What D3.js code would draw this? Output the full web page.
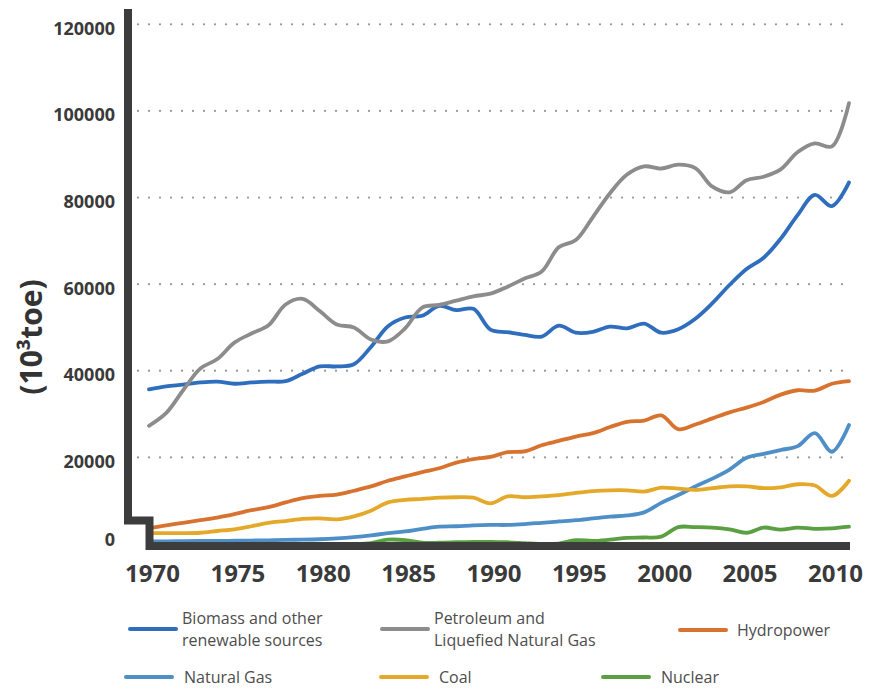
<!DOCTYPE html>
<html>
<head>
<meta charset="utf-8">
<script src="https://cdn.jsdelivr.net/npm/d3@7"></script>
<style>
  body { margin: 0; background: #fff; }
  text { font-family: "Open Sans", sans-serif; }
</style>
</head>
<body>
<div class="canvas"></div>
<script>
// data (10^3 toe)
const years = [1970, 1971, 1972, 1973, 1974, 1975, 1976, 1977, 1978, 1979,
    1980, 1981, 1982, 1983, 1984, 1985, 1986, 1987, 1988, 1989,
    1990, 1991, 1992, 1993, 1994, 1995, 1996, 1997, 1998, 1999,
    2000, 2001, 2002, 2003, 2004, 2005, 2006, 2007, 2008, 2009,
    2010, 2011]

const biomass = [35700, 36400, 36800, 37300, 37500, 37000, 37300, 37500, 37600, 39300,
    41000, 41000, 41500, 45500, 50300, 52300, 52700, 55000, 54000, 54300,
    49500, 48900, 48300, 47900, 50400, 48800, 49000, 50200, 49800, 50900,
    48800, 49600, 52000, 55600, 59800, 63500, 66100, 70500, 76000, 80600,
    78000, 83500]

const petroleum = [27300, 30200, 35500, 40500, 42700, 46500, 48600, 50500, 55300, 56600,
    53800, 50700, 50000, 47200, 46800, 49800, 54600, 55200, 56200, 57200,
    57800, 59400, 61300, 62900, 68500, 70200, 75500, 81000, 85300, 87200,
    86700, 87600, 86800, 82500, 81200, 84000, 84800, 86500, 90500, 92500,
    91800, 101800]

const hydropower = [3600, 4300, 4900, 5500, 6100, 6900, 7800, 8500, 9600, 10600,
    11100, 11400, 12300, 13300, 14600, 15600, 16600, 17500, 18800, 19600,
    20100, 21200, 21400, 22800, 23800, 24800, 25600, 27000, 28200, 28500,
    29700, 26500, 27600, 29000, 30400, 31500, 32800, 34500, 35500, 35400,
    37000, 37600]

const naturalGas = [600, 600, 650, 700, 700, 750, 800, 850, 950, 1000,
    1100, 1300, 1600, 2000, 2500, 2900, 3500, 4000, 4100, 4300,
    4400, 4400, 4600, 4900, 5200, 5500, 5900, 6300, 6600, 7300,
    9500, 11300, 13300, 15100, 17200, 19900, 20800, 21700, 22600, 25600,
    21300, 27500]

const coal = [2500, 2500, 2500, 2600, 3000, 3400, 4100, 4900, 5300, 5800,
    5900, 5700, 6400, 7700, 9600, 10200, 10400, 10700, 10800, 10700,
    9400, 11000, 10800, 11000, 11300, 11800, 12200, 12400, 12400, 12100,
    13000, 12800, 12500, 12900, 13300, 13300, 12900, 13100, 13800, 13500,
    11100, 14600]

const nuclear = [0, 0, 0, 0, 0, 0, 0, 0, 0, 0,
    0, 0, 0, 200, 1000, 900, 300, 300, 400, 500,
    500, 400, 200, 0, 100, 900, 700, 1000, 1400, 1500,
    1700, 3900, 3900, 3800, 3400, 2600, 3800, 3300, 3800, 3500,
    3600, 4000]

const yTicks = [0, 20000, 40000, 60000, 80000, 100000, 120000]
const xTicks = [1970, 1975, 1980, 1985, 1990, 1995, 2000, 2005, 2010]

const seriesNames = ["Biomass and other|renewable sources", "Petroleum and|Liquefied Natural Gas",
    "Hydropower", "Natural Gas", "Coal", "Nuclear"]
const seriesValues = [biomass, petroleum, hydropower, naturalGas, coal, nuclear]
const seriesColors = ["#2f6dbd", "#8c8c8c", "#d8722f", "#4f8fc7", "#e5a92a", "#5b9f43"]

// legend layout (swatch x, text x, row y)
const legendPos = [
    {sx: 130, tx: 182, y: 629},
    {sx: 382, tx: 434, y: 629},
    {sx: 680, tx: 737, y: 630},
    {sx: 126, tx: 184, y: 677},
    {sx: 381, tx: 439, y: 677},
    {sx: 603, tx: 661, y: 677}
]

const width = 873
const height = 689
const axisColor = "#3d3d3d"

const svg = d3.select(".canvas")
    .append("svg")
    .attr("width", width)
    .attr("height", height)

const x = d3.scaleLinear()
    .domain([1970, 2011])
    .range([149, 849])

const y = d3.scaleLinear()
    .domain([0, 120000])
    .range([544, 24.3])

// dotted grid
svg.append("g")
    .selectAll("line")
    .data(yTicks.filter(d => d > 0))
    .enter()
    .append("line")
    .attr("x1", 138)
    .attr("x2", 850)
    .attr("y1", d => y(d))
    .attr("y2", d => y(d))
    .attr("stroke", "#9a9a9a")
    .attr("stroke-width", 2.3)
    .attr("stroke-linecap", "round")
    .attr("stroke-dasharray", "0 11")

// lines
const line = d3.line()
    .x((d, i) => x(years[i]))
    .y(d => y(d))
    .curve(d3.curveCatmullRom.alpha(0.5))

svg.append("g")
    .selectAll("path")
    .data(seriesValues)
    .enter()
    .append("path")
    .attr("d", d => line(d))
    .attr("fill", "none")
    .attr("stroke", (d, i) => seriesColors[i])
    .attr("stroke-width", 3.8)
    .attr("stroke-linejoin", "round")
    .attr("stroke-linecap", "round")

// broken axis frame
const x0 = x.range()[0]
const x1 = x.range()[1]
svg.append("path")
    .attr("d", d3.line()([[128, 9], [128, 520.5], [x0 + 0.5, 520.5], [x0 + 0.5, y(0) + 2], [x1 + 1, y(0) + 2]]))
    .attr("fill", "none")
    .attr("stroke", axisColor)
    .attr("stroke-width", 8)
    .attr("stroke-linejoin", "miter")

// y axis labels
const yAxisGroup = svg.append("g")
    .attr("transform", "translate(121, 0)")
    .call(d3.axisLeft(y).tickValues(yTicks).tickFormat(d3.format("d")).tickSize(0).tickPadding(6))
yAxisGroup.select(".domain").remove()
yAxisGroup.selectAll("text")
    .attr("font-family", "Open Sans, sans-serif")
    .attr("font-weight", 700)
    .attr("font-size", 18)
    .attr("fill", "#3a3a3a")
    .attr("dy", d => d === 0 ? "0.1em" : "0.55em")

// x axis labels
const xAxisGroup = svg.append("g")
    .attr("transform", `translate(3, ${y(0) + 6})`)
    .call(d3.axisBottom(x).tickValues(xTicks).tickFormat(d3.format("d")).tickSize(0).tickPadding(15))
xAxisGroup.select(".domain").remove()
xAxisGroup.selectAll("text")
    .attr("font-family", "Open Sans, sans-serif")
    .attr("font-weight", 700)
    .attr("font-size", 24)
    .attr("fill", "#3a3a3a")

// y title
svg.append("text")
    .attr("transform", "translate(30, 337) rotate(-90)")
    .attr("text-anchor", "middle")
    .attr("dominant-baseline", "central")
    .attr("font-weight", 700)
    .attr("font-size", 30)
    .attr("fill", "#333")
    .text("(10³toe)")

// legend
const legend = svg.append("g")
seriesNames.forEach((name, i) => {
    const p = legendPos[i]
    legend.append("line")
        .attr("x1", p.sx)
        .attr("x2", p.sx + 46)
        .attr("y1", p.y)
        .attr("y2", p.y)
        .attr("stroke", seriesColors[i])
        .attr("stroke-width", 4)
        .attr("stroke-linecap", "round")
    const parts = name.split("|")
    parts.forEach((s, k) => {
        legend.append("text")
            .attr("x", p.tx)
            .attr("y", p.y + (k - (parts.length - 1) / 2) * 22)
            .attr("dy", "0.35em")
            .attr("font-size", 16)
            .attr("fill", "#4d4d4d")
            .text(s)
    })
})
</script>
</body>
</html>
